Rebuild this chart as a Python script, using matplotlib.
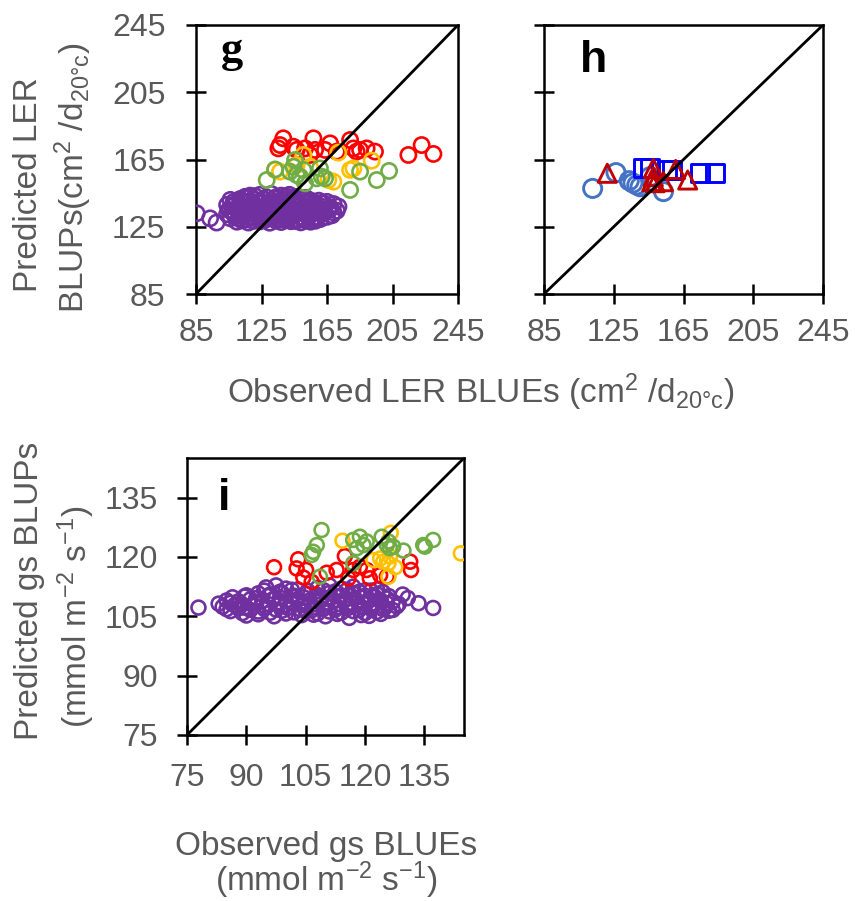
"""
Predicted BLUPs against observed BLUEs for LER and gs.
"""

import matplotlib
matplotlib.use("Agg")
import matplotlib.pyplot as plt

plt.rcParams["font.family"] = "Liberation Sans"
plt.rcParams["mathtext.fontset"] = "custom"
plt.rcParams["mathtext.rm"] = "Liberation Sans"
plt.rcParams["mathtext.it"] = "Liberation Sans:italic"

GREY = "#595959"
RED = "#FF0000"
ORANGE = "#FFC000"
GREEN = "#70AD47"
PURPLE = "#7030A0"

### Panel g: LER, four groups
g_red_x = [138.3, 136.3, 135.3, 144.5, 151.6, 156.7, 157.7, 166.9, 163.8, 170.9, 179.1,
           181.1, 185.2, 189.2, 194.3, 214.7, 222.8, 230.0, 146.5, 154.6, 183.1]
g_red_y = [177.6, 173.6, 171.6, 172.6, 171.6, 177.6, 170.7, 174.6, 170.7, 169.7, 176.6,
           171.6, 170.7, 171.6, 169.7, 167.7, 173.6, 168.3, 170.7, 167.7, 169.7]

g_orange_x = [150.6, 171.9, 192.3, 133.3, 179.1, 181.1, 168.9, 165.8, 136.3, 146.5, 154.6]
g_orange_y = [167.7, 169.1, 164.3, 158.8, 158.8, 159.7, 151.8, 152.8, 157.8, 161.7, 160.7]

g_green_x = [128.2, 133.3, 145.5, 142.4, 146.5, 150.6, 151.6, 148.5, 160.7, 161.8, 163.8,
             158.7, 185.2, 195.4, 202.9, 179.1, 144.5]
g_green_y = [152.8, 159.1, 164.7, 157.8, 155.8, 158.8, 150.8, 154.8, 159.7, 154.8, 153.8,
             153.8, 157.8, 152.8, 158.2, 146.9, 160.7]

g_purple_x = [118, 124, 131, 137, 142, 147, 128,
              106, 112, 116, 121, 126, 133, 139, 144, 150, 155, 160, 165,
              104, 109, 114, 119, 123, 129, 134, 138, 143, 148, 153, 158, 163, 169, 172,
              105, 110, 115, 120, 125, 130, 135, 140, 145, 150, 155, 160, 166, 171,
              104, 108, 113, 118, 123, 128, 133, 137, 142, 147, 152, 157, 162, 168,
              106, 111, 116, 121, 126, 131, 136, 141, 146, 151, 156, 161,
              110, 117, 124, 130, 137, 143, 149, 155,
              115, 121, 134, 140, 145, 152,
              108, 113, 118, 124, 130, 136, 141, 146, 152, 157, 162,
              107, 112, 117, 122, 127, 132, 137, 142, 147, 152, 157, 162, 167,
              107, 112, 117, 122, 127, 132, 137, 142, 147, 152, 157, 163, 169,
              109, 114, 119, 124, 129, 134, 139, 144, 149, 154, 159, 165,
              113, 120, 127, 134, 140, 146, 152, 158,
              85.4, 93.6, 97.6]
g_purple_y = [143.5, 144, 144.5, 143.5, 144, 142.8, 142.5,
              141, 141.5, 142, 141, 141.3, 141.8, 141, 140.5, 141.2, 140.6, 140.5, 139.8,
              138, 138.5, 139, 138.2, 139.3, 138.6, 139, 138, 139.2, 138.4, 139, 138, 138.7, 138.5, 137,
              135, 135.8, 135.2, 136, 135.5, 136.2, 135, 136, 135.4, 136, 135.2, 135.8, 135, 134.5,
              132.5, 133, 132.4, 133.2, 132.6, 133.4, 132.8, 133.6, 132.5, 133, 132.4, 133.2, 132.6, 131.8,
              130, 130, 129.4, 130.2, 129.6, 130.4, 129.7, 130, 129.5, 130.3, 129.8, 129.6,
              128, 127.5, 128.2, 127.4, 127.8, 128.3, 127.6, 128,
              142.8, 143.2, 142.6, 143, 142.4, 142.2,
              139.8, 140.2, 139.6, 140.1, 139.7, 140.3, 139.9, 139.5, 140, 139.6, 139.2,
              137, 137.4, 136.8, 137.2, 136.9, 137.5, 137.1, 136.7, 137.3, 136.9, 137.2, 136.8, 136.5,
              134, 134.3, 133.8, 134.4, 134.1, 133.7, 134.2, 134.5, 133.9, 134.2, 133.8, 134, 133.5,
              131, 131.3, 130.8, 131.4, 131.1, 131.5, 130.9, 131.2, 130.8, 131.1, 130.7, 130.9,
              128.8, 128.5, 129, 128.6, 128.9, 128.4, 128.8, 128.6,
              133, 130, 127.5]

### Panel h: LER, three groups
h_circle_x = [112.9, 126.3, 133.9, 138.2, 140.1, 153.5, 145.8, 136.0]
h_circle_y = [147.8, 157.2, 152.4, 149.8, 148.8, 145.9, 154.8, 151.0]

h_triangle_x = [121.3, 147.7, 146.8, 148.7, 153.5, 160.5, 167.4, 147.7]
h_triangle_y = [156.8, 159.7, 151.8, 151.2, 151.8, 159.1, 152.8, 154.8]

h_square_x = [141.6, 145.8, 155.4, 158.2, 174.5, 183.1]
h_square_y = [159.7, 159.7, 158.8, 158.8, 157.2, 157.2]

### Panel i: gs, four groups
i_green_x = [109.0, 107.8, 106.9, 106.5, 108.6, 117.0, 118.7, 120.4, 117.9, 117.0,
             124.2, 125.9, 127.1, 126.3, 129.7, 134.7, 135.1, 137.2, 119.6, 125.5]
i_green_y = [126.8, 123.0, 121.3, 120.5, 115.0, 124.3, 125.1, 123.9, 122.2, 118.4,
             125.1, 123.9, 122.6, 122.2, 121.6, 123.0, 122.6, 124.3, 123.0, 123.0]

i_orange_x = [114.3, 126.5, 122.1, 123.8, 125.9, 127.6, 125.9, 124.6, 144.2, 126.3]
i_orange_y = [124.1, 126.1, 119.2, 119.6, 118.4, 117.4, 115.0, 118.8, 120.9, 120.1]

i_red_x = [97.0, 103.1, 102.7, 105.1, 104.4, 106.5, 110.3, 112.8, 114.9, 115.8,
           118.7, 121.2, 123.8, 125.5, 131.4, 131.6, 117.0, 120.4]
i_red_y = [117.4, 119.4, 117.1, 116.7, 114.8, 113.7, 116.0, 116.7, 120.2, 114.6,
           117.5, 114.6, 115.4, 115.0, 118.8, 116.7, 116.7, 116.7]

i_purple_x = [95, 97.5, 100, 103, 108, 111, 114, 117, 120, 123,
              90, 93, 96, 99, 102, 105, 108, 111, 114, 117, 120, 123, 126,
              85, 88, 91, 94, 97, 100, 103, 106, 109, 112, 115, 118, 121, 124, 127,
              84, 87, 89.5, 92, 95, 98, 101, 104, 107, 110, 113, 116, 119, 122, 125, 128,
              86, 89, 93, 96, 99, 102, 105, 108, 111, 114, 117, 120, 123, 126,
              90, 97, 104, 110, 116, 121,
              94.5, 98.5, 101.5, 105.5, 109.5, 112.5, 115.5, 118.5, 121.5, 124.5,
              86.5, 89.5, 92.5, 95.5, 98.5, 101.5, 104.5, 107.5, 110.5, 113.5, 116.5, 119.5, 122.5, 125.5,
              83, 86, 89, 92.5, 95.5, 98.5, 101.5, 104.5, 107.5, 110.5, 113.5, 116.5, 119.5, 122.5, 125.5, 128.5,
              85, 88, 91, 94.5, 97.5, 100.5, 103.5, 106.5, 109.5, 112.5, 115.5, 118.5, 121.5, 124.5, 127,
              93, 100, 107, 113, 119, 124,
              77.9, 130.8, 133.5, 137.2, 129.5]
i_purple_y = [112.3, 112.8, 112, 111.8, 112.2, 112.8, 112, 112.5, 111.6, 111.8,
              110.3, 110.8, 110.5, 110.9, 110.2, 110.7, 110.4, 110.9, 110.3, 110.8, 110.2, 110.6, 110.1,
              109, 108.8, 109.3, 108.9, 109.4, 108.8, 109.3, 109, 109.5, 108.9, 109.4, 108.8, 109.3, 109, 108.7,
              107.4, 107.8, 107.2, 107.7, 107.3, 107.9, 107.4, 107.8, 107.2, 107.7, 107.3, 107.8, 107.4, 107.6, 107.2, 107.5,
              106.3, 105.8, 106.2, 105.9, 106.4, 106, 106.3, 105.7, 106.2, 105.9, 106.3, 105.8, 106.1, 106.4,
              105.2, 105, 105.3, 105, 104.6, 105.1,
              111.5, 111.2, 111.7, 111.4, 111.6, 111.3, 111.7, 111.2, 111.5, 111.1,
              109.8, 110, 109.6, 110.1, 109.7, 110, 109.8, 110.2, 109.6, 109.9, 110.1, 109.7, 109.9, 109.5,
              108.2, 108.4, 108, 108.3, 108.1, 108.5, 108.2, 108.4, 108, 108.3, 108.1, 108.4, 108.2, 108, 108.3, 108.1,
              106.8, 107, 106.6, 106.9, 106.7, 107.1, 106.8, 106.5, 106.9, 106.7, 107, 106.6, 106.9, 106.8, 106.6,
              105.5, 105.7, 105.4, 105.6, 105.3, 105.6,
              107.2, 109.6, 108.3, 107.1, 110.5]

ler_ticks = [85, 125, 165, 205, 245]
gs_ticks = [75, 90, 105, 120, 135]


def style_axes(ax, lo, hi, ticks, ylabels=True, xpad=10, ypad=15):
    ax.set_xlim(lo, hi)
    ax.set_ylim(lo, hi)
    ax.set_xticks(ticks)
    ax.set_yticks(ticks)
    if not ylabels:
        ax.set_yticklabels([])
    for s in ax.spines.values():
        s.set_linewidth(1.8)
    ax.tick_params(direction="inout", length=14, width=1.8, labelsize=23,
                   labelcolor=GREY)
    ax.tick_params(axis="x", pad=xpad)
    ax.tick_params(axis="y", pad=ypad)
    # 1:1 line
    ax.plot([lo, hi], [lo, hi], color="black", lw=2.0, zorder=5)


def rings(ax, x, y, color, marker="o", s=120, lw=1.9):
    ax.scatter(x, y, s=s, marker=marker, facecolors="none", edgecolors=color,
               linewidths=lw, zorder=3)


fig = plt.figure(figsize=(8.55, 9.01), dpi=100)
W, H = 855, 901

ax_g = fig.add_axes([196 / W, 1 - 294 / H, 262 / W, 269 / H])
ax_h = fig.add_axes([544 / W, 1 - 294 / H, 279 / W, 269 / H])
ax_i = fig.add_axes([187 / W, 1 - 735 / H, 277 / W, 277 / H])

# g
rings(ax_g, g_purple_x, g_purple_y, PURPLE)
rings(ax_g, g_red_x, g_red_y, RED)
rings(ax_g, g_orange_x, g_orange_y, ORANGE)
rings(ax_g, g_green_x, g_green_y, GREEN)
style_axes(ax_g, 85, 245, ler_ticks)

# h
rings(ax_h, h_circle_x, h_circle_y, "#4472C4", "o", s=170, lw=2.1)
rings(ax_h, h_square_x, h_square_y, "#0000FF", "s", s=170, lw=2.1)
rings(ax_h, h_triangle_x, h_triangle_y, "#C00000", "^", s=170, lw=2.1)
style_axes(ax_h, 85, 245, ler_ticks, ylabels=False)

# i
rings(ax_i, i_purple_x, i_purple_y, PURPLE, s=100)
rings(ax_i, i_red_x, i_red_y, RED, s=100)
rings(ax_i, i_orange_x, i_orange_y, ORANGE, s=100)
rings(ax_i, i_green_x, i_green_y, GREEN, s=100)
style_axes(ax_i, 75, 145, gs_ticks, xpad=13, ypad=14)

# panel letters
ax_g.text(0.137, 0.862, "g", transform=ax_g.transAxes, ha="center", va="baseline",
          fontsize=32, fontweight="bold", family="Liberation Serif")
ax_h.text(0.176, 0.825, "h", transform=ax_h.transAxes, ha="center", va="baseline",
          fontsize=32, fontweight="bold")
ax_i.text(0.134, 0.812, "i", transform=ax_i.transAxes, ha="center", va="baseline",
          fontsize=32, fontweight="bold")

# axis labels
lab = dict(fontsize=24, color=GREY, ha="center", va="center")
fig.text(29 / W, 1 - 185 / H, "Predicted LER", rotation=90, **lab)
fig.text(73 / W, 1 - 178 / H,
         r"BLUPs(cm$^{\mathregular{2}}$ /d$_{\mathregular{20°c}}$)", rotation=90, **lab)
fig.text(481 / W, 1 - 392 / H,
         r"Observed LER BLUEs (cm$^{\mathregular{2}}$ /d$_{\mathregular{20°c}}$)", **lab)

fig.text(30 / W, 1 - 591 / H, "Predicted gs BLUPs", rotation=90, **lab)
fig.text(76 / W, 1 - 617 / H,
         r"(mmol m$^{\mathregular{-2}}$ s$^{\mathregular{-1}}$)", rotation=90, **lab)
fig.text(326 / W, 1 - 866 / H,
         "Observed gs BLUEs\n" + r"(mmol m$^{\mathregular{-2}}$ s$^{\mathregular{-1}}$)",
         multialignment="center", linespacing=0.95, **lab)

fig.savefig("out.png", dpi=100)
